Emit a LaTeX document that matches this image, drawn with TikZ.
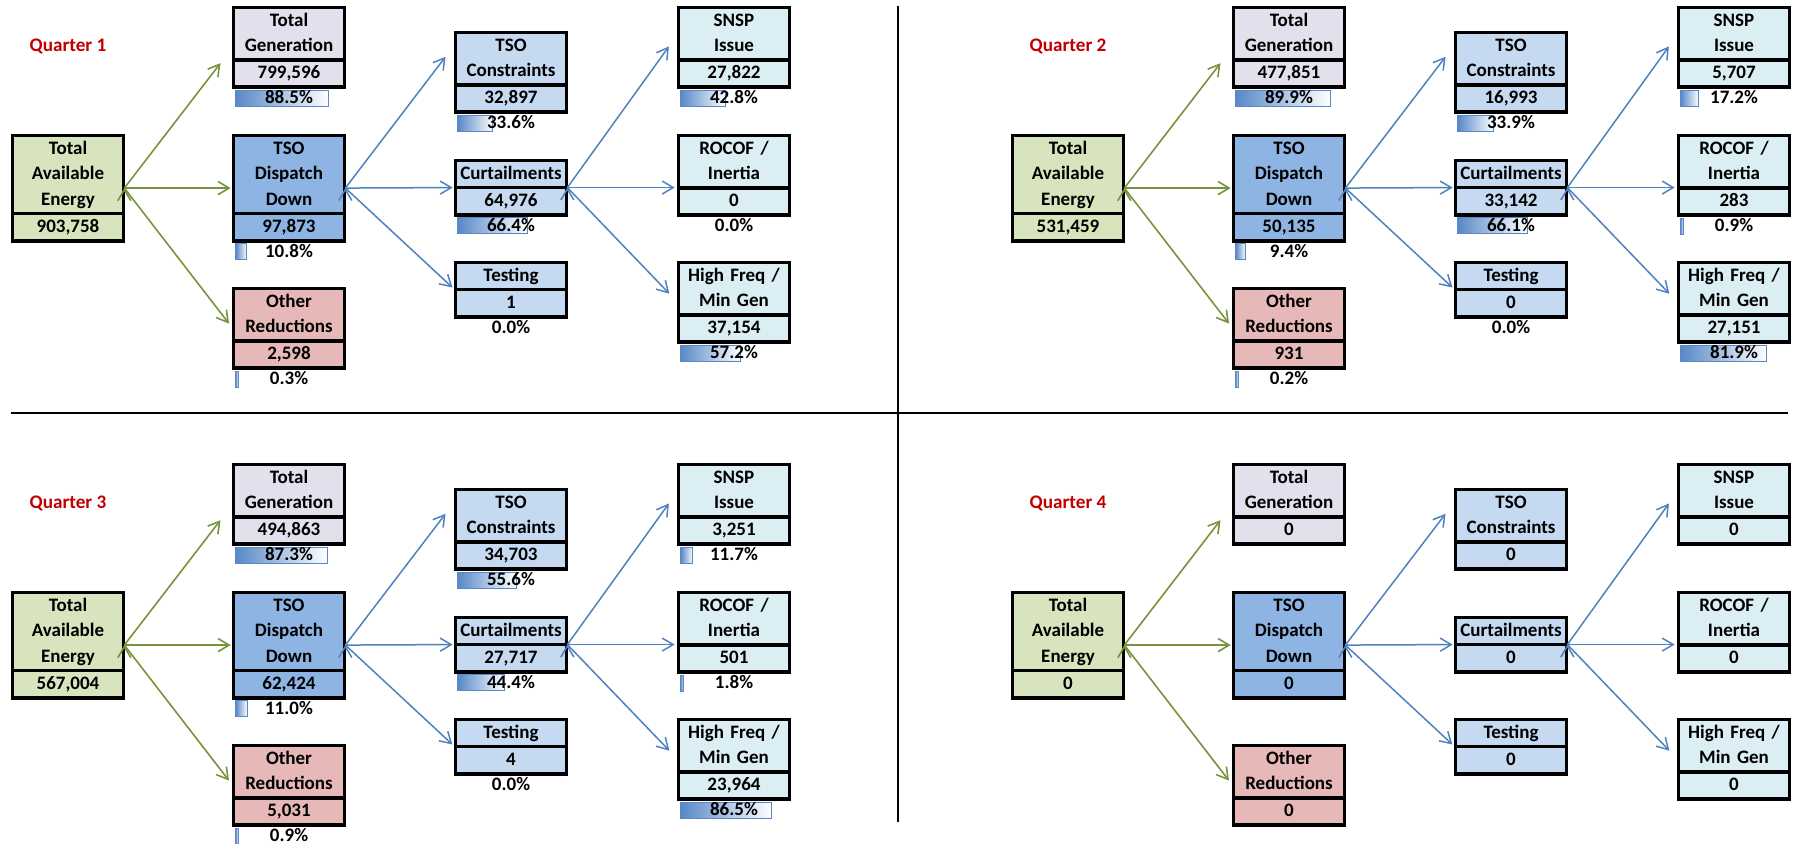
\documentclass[tikz,border=0pt]{standalone}
\usepackage{fontspec}
\setmainfont{Carlito}
\usepackage{tikz}
\usepackage{xcolor}
\usetikzlibrary{arrows.meta,shapes.multipart,positioning}
\tikzset{%
	celltext/.style={font=\fontsize{9.5}{12.75}\selectfont\bfseries,
		execute at begin node=\noindent\strut, execute at end node=\strut},
	box/.style={celltext, rectangle split, rectangle split parts=2,
		draw=black, line width=0.85pt, text width=54pt, align=center,
		inner xsep=0.75pt, inner ysep=0pt, anchor=north,
		postaction={draw=black, line width=1.8pt}},
	avail/.style={box, fill=AvailGreen},
	gen/.style={box, fill=GenLilac},
	dispatch/.style={box, fill=DispatchBlue},
	other/.style={box, fill=OtherRose},
	reason/.style={box, fill=ReasonBlue},
	cause/.style={box, fill=CauseAqua},
	pct/.style={celltext, inner sep=0pt, text width=55.5pt, align=center},
	databar/.style={draw=BarBlue, line width=0.5pt, left color=BarBlue, right color=white},
	qtitle/.style={font=\fontsize{9.6}{11}\selectfont\bfseries, text=QuarterRed},
	flow/.style={->, draw=FlowGreen, line width=0.8pt},
	split/.style={->, draw=SplitBlue, line width=0.75pt},
	rule/.style={draw=black, line width=1pt},
}
\definecolor{AvailGreen}{RGB}{215,228,189}
\definecolor{GenLilac}{RGB}{228,223,236}
\definecolor{DispatchBlue}{RGB}{141,180,226}
\definecolor{OtherRose}{RGB}{230,185,184}
\definecolor{ReasonBlue}{RGB}{197,217,241}
\definecolor{CauseAqua}{RGB}{219,238,244}
\definecolor{BarBlue}{RGB}{88,136,198}
\definecolor{QuarterRed}{RGB}{192,0,0}
\definecolor{FlowGreen}{RGB}{119,147,60}
\definecolor{SplitBlue}{RGB}{79,129,189}

\begin{document}
\begin{tikzpicture}[x=0.5pt, y=-0.5pt,
    >={Straight Barb[length=5.5pt,width=6.5pt]}]

    \useasboundingbox (0,0) rectangle (1797,843);

    % Quarter 1
    \node[qtitle] (q1lab) at (68,46) {Quarter 1};
    \node[avail] (q1tae) at (68,134.5) {Total\\Available\\Energy\nodepart{two}903,758};
    \node[gen] (q1tg) at (289,6.5) {Total\\Generation\nodepart{two}799,596};
    \node[dispatch] (q1dd) at (289,134.5) {TSO\\Dispatch\\Down\nodepart{two}97,873};
    \node[other] (q1or) at (289,287.5) {Other\\Reductions\nodepart{two}2,598};
    \node[reason] (q1con) at (511,31.5) {TSO\\Constraints\nodepart{two}32,897};
    \node[reason] (q1cur) at (511,159.5) {Curtailments\nodepart{two}64,976};
    \node[reason] (q1tst) at (511,261.5) {Testing\nodepart{two}1};
    \node[cause] (q1snsp) at (734,6.5) {SNSP\\Issue\nodepart{two}27,822};
    \node[cause] (q1roc) at (734,134.5) {ROCOF /\\Inertia\nodepart{two}0};
    \node[cause] (q1hf) at (734,261.5) {High Freq /\\Min Gen\nodepart{two}37,154};

    \path[flow] (q1tae.east) edge[shorten >=10pt] (q1tg.west)
        edge[shorten >=1pt] (q1dd.west)
        edge[shorten >=3pt] (q1or.west);
    \path[split] (q1dd.east) edge[shorten >=7.5pt] (q1con.154)
        edge[shorten >=1pt] (q1cur.west)
        edge[shorten >=1.5pt] (q1tst.west);
    \path[split] (q1cur.east) edge[shorten >=7.5pt] (q1snsp.167)
        edge[shorten >=1.5pt] (q1cur.east -| q1roc.west)
        edge[shorten >=6pt] (q1hf.west);

    \draw[databar] ([shift={(3,2)}]q1tg.south west) rectangle ++(93,16);
    \draw[databar] ([shift={(3,2)}]q1dd.south west) rectangle ++(11.3,16);
    \draw[databar] ([shift={(3,2)}]q1or.south west) rectangle ++(2.5,16);
    \draw[databar] ([shift={(3,2)}]q1con.south west) rectangle ++(35.3,16);
    \draw[databar] ([shift={(3,2)}]q1cur.south west) rectangle ++(69.7,16);
    \draw[databar] ([shift={(3,2)}]q1snsp.south west) rectangle ++(45,16);
    \draw[databar] ([shift={(3,2)}]q1hf.south west) rectangle ++(60,16);
    \node[pct] (q1tgp) [below=-1.25pt of q1tg] {88.5\%};
    \node[pct] (q1ddp) [below=-1.25pt of q1dd] {10.8\%};
    \node[pct] (q1orp) [below=-1.25pt of q1or] {0.3\%};
    \node[pct] (q1conp) [below=-1.25pt of q1con] {33.6\%};
    \node[pct] (q1curp) [below=-1.25pt of q1cur] {66.4\%};
    \node[pct] (q1tstp) [below=-1.25pt of q1tst] {0.0\%};
    \node[pct] (q1snspp) [below=-1.25pt of q1snsp] {42.8\%};
    \node[pct] (q1rocp) [below=-1.25pt of q1roc] {0.0\%};
    \node[pct] (q1hfp) [below=-1.25pt of q1hf] {57.2\%};

    % Quarter 2
    \begin{scope}[shift={(1000,0)}]
    \node[qtitle] (q2lab) at (68,46) {Quarter 2};
    \node[avail] (q2tae) at (68,134.5) {Total\\Available\\Energy\nodepart{two}531,459};
    \node[gen] (q2tg) at (289,6.5) {Total\\Generation\nodepart{two}477,851};
    \node[dispatch] (q2dd) at (289,134.5) {TSO\\Dispatch\\Down\nodepart{two}50,135};
    \node[other] (q2or) at (289,287.5) {Other\\Reductions\nodepart{two}931};
    \node[reason] (q2con) at (511,31.5) {TSO\\Constraints\nodepart{two}16,993};
    \node[reason] (q2cur) at (511,159.5) {Curtailments\nodepart{two}33,142};
    \node[reason] (q2tst) at (511,261.5) {Testing\nodepart{two}0};
    \node[cause] (q2snsp) at (734,6.5) {SNSP\\Issue\nodepart{two}5,707};
    \node[cause] (q2roc) at (734,134.5) {ROCOF /\\Inertia\nodepart{two}283};
    \node[cause] (q2hf) at (734,261.5) {High Freq /\\Min Gen\nodepart{two}27,151};

    \path[flow] (q2tae.east) edge[shorten >=10pt] (q2tg.west)
        edge[shorten >=1pt] (q2dd.west)
        edge[shorten >=3pt] (q2or.west);
    \path[split] (q2dd.east) edge[shorten >=7.5pt] (q2con.154)
        edge[shorten >=1pt] (q2cur.west)
        edge[shorten >=1.5pt] (q2tst.west);
    \path[split] (q2cur.east) edge[shorten >=7.5pt] (q2snsp.167)
        edge[shorten >=1.5pt] (q2cur.east -| q2roc.west)
        edge[shorten >=6pt] (q2hf.west);

    \draw[databar] ([shift={(3,2)}]q2tg.south west) rectangle ++(94.4,16);
    \draw[databar] ([shift={(3,2)}]q2dd.south west) rectangle ++(9.9,16);
    \draw[databar] ([shift={(3,2)}]q2or.south west) rectangle ++(2.5,16);
    \draw[databar] ([shift={(3,2)}]q2con.south west) rectangle ++(35.6,16);
    \draw[databar] ([shift={(3,2)}]q2cur.south west) rectangle ++(69.4,16);
    \draw[databar] ([shift={(3,2)}]q2snsp.south west) rectangle ++(18,16);
    \draw[databar] ([shift={(3,2)}]q2roc.south west) rectangle ++(2.5,16);
    \draw[databar] ([shift={(3,2)}]q2hf.south west) rectangle ++(86,16);
    \node[pct] (q2tgp) [below=-1.25pt of q2tg] {89.9\%};
    \node[pct] (q2ddp) [below=-1.25pt of q2dd] {9.4\%};
    \node[pct] (q2orp) [below=-1.25pt of q2or] {0.2\%};
    \node[pct] (q2conp) [below=-1.25pt of q2con] {33.9\%};
    \node[pct] (q2curp) [below=-1.25pt of q2cur] {66.1\%};
    \node[pct] (q2tstp) [below=-1.25pt of q2tst] {0.0\%};
    \node[pct] (q2snspp) [below=-1.25pt of q2snsp] {17.2\%};
    \node[pct] (q2rocp) [below=-1.25pt of q2roc] {0.9\%};
    \node[pct] (q2hfp) [below=-1.25pt of q2hf] {81.9\%};
    \end{scope}

    % Quarter 3
    \begin{scope}[shift={(0,457)}]
    \node[qtitle] (q3lab) at (68,46) {Quarter 3};
    \node[avail] (q3tae) at (68,134.5) {Total\\Available\\Energy\nodepart{two}567,004};
    \node[gen] (q3tg) at (289,6.5) {Total\\Generation\nodepart{two}494,863};
    \node[dispatch] (q3dd) at (289,134.5) {TSO\\Dispatch\\Down\nodepart{two}62,424};
    \node[other] (q3or) at (289,287.5) {Other\\Reductions\nodepart{two}5,031};
    \node[reason] (q3con) at (511,31.5) {TSO\\Constraints\nodepart{two}34,703};
    \node[reason] (q3cur) at (511,159.5) {Curtailments\nodepart{two}27,717};
    \node[reason] (q3tst) at (511,261.5) {Testing\nodepart{two}4};
    \node[cause] (q3snsp) at (734,6.5) {SNSP\\Issue\nodepart{two}3,251};
    \node[cause] (q3roc) at (734,134.5) {ROCOF /\\Inertia\nodepart{two}501};
    \node[cause] (q3hf) at (734,261.5) {High Freq /\\Min Gen\nodepart{two}23,964};

    \path[flow] (q3tae.east) edge[shorten >=10pt] (q3tg.west)
        edge[shorten >=1pt] (q3dd.west)
        edge[shorten >=3pt] (q3or.west);
    \path[split] (q3dd.east) edge[shorten >=7.5pt] (q3con.154)
        edge[shorten >=1pt] (q3cur.west)
        edge[shorten >=1.5pt] (q3tst.west);
    \path[split] (q3cur.east) edge[shorten >=7.5pt] (q3snsp.167)
        edge[shorten >=1.5pt] (q3cur.east -| q3roc.west)
        edge[shorten >=6pt] (q3hf.west);

    \draw[databar] ([shift={(3,2)}]q3tg.south west) rectangle ++(91.7,16);
    \draw[databar] ([shift={(3,2)}]q3dd.south west) rectangle ++(11.6,16);
    \draw[databar] ([shift={(3,2)}]q3or.south west) rectangle ++(2.5,16);
    \draw[databar] ([shift={(3,2)}]q3con.south west) rectangle ++(58.4,16);
    \draw[databar] ([shift={(3,2)}]q3cur.south west) rectangle ++(46.6,16);
    \draw[databar] ([shift={(3,2)}]q3snsp.south west) rectangle ++(12.3,16);
    \draw[databar] ([shift={(3,2)}]q3roc.south west) rectangle ++(3,16);
    \draw[databar] ([shift={(3,2)}]q3hf.south west) rectangle ++(90.8,16);
    \node[pct] (q3tgp) [below=-1.25pt of q3tg] {87.3\%};
    \node[pct] (q3ddp) [below=-1.25pt of q3dd] {11.0\%};
    \node[pct] (q3orp) [below=-1.25pt of q3or] {0.9\%};
    \node[pct] (q3conp) [below=-1.25pt of q3con] {55.6\%};
    \node[pct] (q3curp) [below=-1.25pt of q3cur] {44.4\%};
    \node[pct] (q3tstp) [below=-1.25pt of q3tst] {0.0\%};
    \node[pct] (q3snspp) [below=-1.25pt of q3snsp] {11.7\%};
    \node[pct] (q3rocp) [below=-1.25pt of q3roc] {1.8\%};
    \node[pct] (q3hfp) [below=-1.25pt of q3hf] {86.5\%};
    \end{scope}

    % Quarter 4
    \begin{scope}[shift={(1000,457)}]
    \node[qtitle] (q4lab) at (68,46) {Quarter 4};
    \node[avail] (q4tae) at (68,134.5) {Total\\Available\\Energy\nodepart{two}0};
    \node[gen] (q4tg) at (289,6.5) {Total\\Generation\nodepart{two}0};
    \node[dispatch] (q4dd) at (289,134.5) {TSO\\Dispatch\\Down\nodepart{two}0};
    \node[other] (q4or) at (289,287.5) {Other\\Reductions\nodepart{two}0};
    \node[reason] (q4con) at (511,31.5) {TSO\\Constraints\nodepart{two}0};
    \node[reason] (q4cur) at (511,159.5) {Curtailments\nodepart{two}0};
    \node[reason] (q4tst) at (511,261.5) {Testing\nodepart{two}0};
    \node[cause] (q4snsp) at (734,6.5) {SNSP\\Issue\nodepart{two}0};
    \node[cause] (q4roc) at (734,134.5) {ROCOF /\\Inertia\nodepart{two}0};
    \node[cause] (q4hf) at (734,261.5) {High Freq /\\Min Gen\nodepart{two}0};

    \path[flow] (q4tae.east) edge[shorten >=10pt] (q4tg.west)
        edge[shorten >=1pt] (q4dd.west)
        edge[shorten >=3pt] (q4or.west);
    \path[split] (q4dd.east) edge[shorten >=7.5pt] (q4con.154)
        edge[shorten >=1pt] (q4cur.west)
        edge[shorten >=1.5pt] (q4tst.west);
    \path[split] (q4cur.east) edge[shorten >=7.5pt] (q4snsp.167)
        edge[shorten >=1.5pt] (q4cur.east -| q4roc.west)
        edge[shorten >=6pt] (q4hf.west);
    \end{scope}

    % dividers
    \draw[rule] (11,413) -- (1788,413);
    \draw[rule] (898,6) -- (898,822);

\end{tikzpicture}
\end{document}
